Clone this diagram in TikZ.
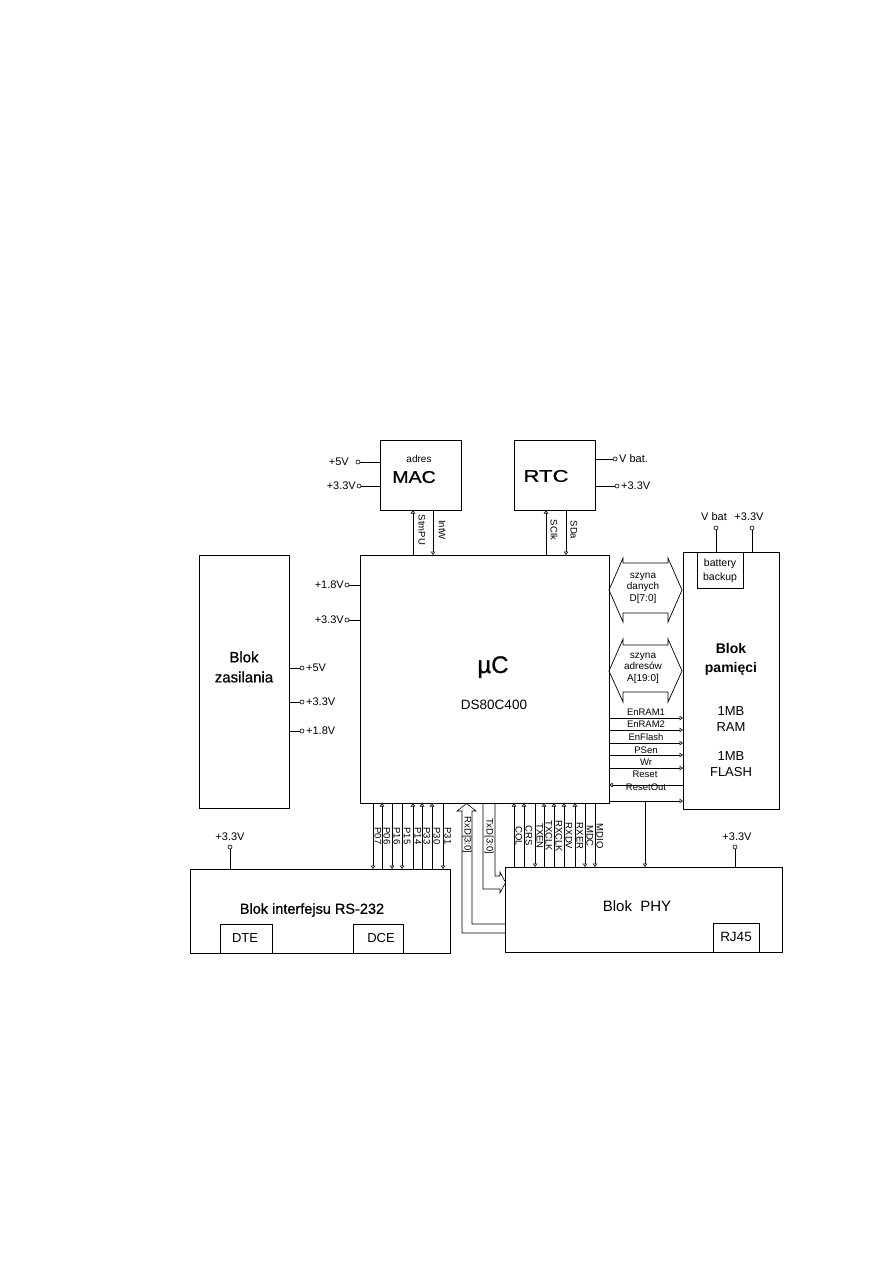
\documentclass[tikz,border=0pt]{standalone}
\usepackage{fontspec}
\usepackage{graphicx}
\setmainfont{Liberation Sans}
\newfontfamily\heavyfont[FakeBold=0.8]{Liberation Sans}
\usetikzlibrary{arrows.meta}
\newcommand\myfs[2]{\fontsize{#1}{#2}\selectfont}
\begin{document}
\begin{tikzpicture}[x=1pt,y=-1pt,
  box/.style={draw,line width=0.9pt,anchor=north west,inner sep=0pt,outer sep=0pt},
  sig/.style={line width=0.6pt},
  tip/.style={-{Triangle[open,length=3.5pt,width=4.5pt]}},
  term/.style={circle,draw,line width=0.6pt,fill=white,inner sep=0pt,minimum size=4pt,outer sep=0pt},
  vlab/.style={font=\myfs{11}{13},inner sep=0pt},
  pin/.style={font=\myfs{9.5}{11},inner sep=0pt,rotate=-90},
  slab/.style={font=\myfs{9.5}{11},inner sep=0pt},
  txt/.style={inner sep=0pt,align=center},
]
\fill[white] (0,0) rectangle (893,1263);
\useasboundingbox (0,0) rectangle (893,1263);

% ---------- blocks ----------
\node[box,minimum width=81pt,minimum height=70pt] (mac) at (380,440) {};
\node[box,minimum width=81pt,minimum height=70pt] (rtc) at (514,440) {};
\node[box,minimum width=249pt,minimum height=248pt] (uc) at (360,555) {};
\node[box,minimum width=90pt,minimum height=253pt] (zas) at (199,555) {};
\node[box,minimum width=96pt,minimum height=257pt] (mem) at (683,552) {};
\node[box,minimum width=46pt,minimum height=36pt] (bat) at (697,552) {};
\node[box,minimum width=260pt,minimum height=84pt] (rs) at (190,869) {};
\node[box,minimum width=52pt,minimum height=29pt] (dte) at (220,924) {};
\node[box,minimum width=50pt,minimum height=29pt] (dce) at (353,924) {};
\node[box,minimum width=277pt,minimum height=85pt] (phy) at (505,867) {};
\node[box,minimum width=46pt,minimum height=29pt] (rj) at (713,923) {};

% ---------- block texts ----------
\node[txt,font=\myfs{10}{12}] (tadres) at (419,459) {adres};
\node[txt,font=\heavyfont\myfs{17}{20}] (tmac) at (414,477) {\scalebox{1.15}[1]{MAC}};
\node[txt,font=\heavyfont\myfs{17}{20}] (trtc) at (546,476) {\scalebox{1.3}[1]{RTC}};
\node[txt,font=\heavyfont\myfs{15}{20}] (tzas) at (244,667) {Blok\\zasilania};
\node[txt,font=\bfseries\myfs{14}{19}] (tmem) at (731,659) {Blok\\pamięci};
\node[txt,font=\myfs{13}{16}] (tram) at (731,719) {1MB\\RAM};
\node[txt,font=\myfs{13}{16}] (tflash) at (731,764) {1MB\\FLASH};
\node[txt,font=\myfs{10.5}{14}] (tbat) at (720,571) {battery\\backup};
\node[txt,font=\heavyfont\myfs{24}{28},anchor=base] (tuc) at (493,673) {µC};
\node[txt,font=\myfs{13.5}{16},anchor=base] (tds) at (494,709) {DS80C400};
\node[txt,font=\heavyfont\myfs{14.5}{17}] (trs) at (312,910) {Blok interfejsu RS-232};
\node[txt,font=\myfs{15}{18}] (tphy) at (637,906) {Blok\ \ PHY};
\node[txt,font=\myfs{13}{15}] (tdte) at (245,938) {DTE};
\node[txt,font=\myfs{13}{15}] (tdce) at (381,938) {DCE};
\node[txt,font=\myfs{13.5}{15}] (trj) at (736,937) {RJ45};

% ---------- supply terminals ----------
\node[term] (m5) at (358,462) {};
\node[vlab,anchor=east] (lm5) at (349,462) {+5V};
\draw[sig] (m5.east) -- (m5 -| mac.west);
\node[term] (m33) at (359,486) {};
\node[vlab,anchor=east] (lm33) at (356,486) {+3.3V};
\draw[sig] (m33.east) -- (m33 -| mac.west);

\node[term] (rvb) at (615,459) {};
\node[vlab,anchor=west] (lrvb) at (619,459) {V bat.};
\draw[sig] (rvb.west) -- (rvb -| rtc.east);
\node[term] (r33) at (617,486) {};
\node[vlab,anchor=west] (lr33) at (621,486) {+3.3V};
\draw[sig] (r33.west) -- (r33 -| rtc.east);

\foreach \n/\y/\t in {z5/668/+5V, z33/702/+3.3V, z18/731/+1.8V} {
  \node[term] (\n) at (302,\y) {};
  \node[vlab,anchor=west] (l\n) at (306,\y) {\t};
  \draw[sig] (\n.west) -- (\n -| zas.east);
}
\foreach \n/\y/\t in {u18/585/+1.8V, u33/620/+3.3V} {
  \node[term] (\n) at (347,\y) {};
  \node[vlab,anchor=east] (l\n) at (344,\y) {\t};
  \draw[sig] (\n.east) -- (\n -| uc.west);
}

\node[term] (mvb) at (716,528) {};
\node[vlab,anchor=south] (lmvb) at (714,521) {V bat};
\draw[sig] (mvb.south) -- (mvb |- bat.north);
\node[term] (m33b) at (752,528) {};
\node[vlab,anchor=south] (lm33b) at (749,521) {+3.3V};
\draw[sig] (m33b.south) -- (m33b |- mem.north);

\node[term] (rs33) at (230,847) {};
\node[vlab,anchor=south] (lrs33) at (230,841) {+3.3V};
\draw[sig] (rs33.south) -- (rs33 |- rs.north);
\node[term] (phy33) at (735,847) {};
\node[vlab,anchor=south] (lphy33) at (737,841) {+3.3V};
\draw[sig] (phy33.south) -- (phy33 |- phy.north);

% ---------- uC <-> MAC / RTC ----------
\foreach \n/\x in {stm/413,intw/433,sclk/546,sda/566} \coordinate (\n) at (\x,0);
\draw[sig,tip] (uc.north -| stm) -- (mac.south -| stm);
\draw[sig,tip] (mac.south -| intw) -- (uc.north -| intw);
\draw[sig,tip] (uc.north -| sclk) -- (rtc.south -| sclk);
\draw[sig,tip] (rtc.south -| sda) -- (uc.north -| sda);
\node[pin] (lstm) at (422,530) {StmPU};
\node[pin] (lintw) at (442,530) {IntW};
\node[pin] (lsclk) at (554,530) {SClk};
\node[pin] (lsda) at (574,530) {SDa};

% ---------- uC <-> RS-232 ----------
\foreach \x/\t in {373/P07,392/P16,402/P15,443/P31} {
  \coordinate (c\t) at (\x,0);
  \draw[sig,tip] (uc.south -| c\t) -- (rs.north -| c\t);
  \node[pin] (l\t) at (\x+5,836) {\t};
}
\foreach \x/\t in {382/P06,413/P14,422/P33,432/P30} {
  \coordinate (c\t) at (\x,0);
  \draw[sig,tip] (rs.north -| c\t) -- (uc.south -| c\t);
  \node[pin] (l\t) at (\x+5,836) {\t};
}

% ---------- uC <-> PHY ----------
\foreach \x/\t in {535/TXEN,585/MDC,595/MDIO} {
  \coordinate (c\t) at (\x,0);
  \draw[sig,tip] (uc.south -| c\t) -- (phy.north -| c\t);
  \node[pin] (l\t) at (\x+5,836) {\t};
}
\foreach \x/\t in {514/COL,524/CRS,544/TXCLK,554/RXCLK,564/RXDV,575/RXER} {
  \coordinate (c\t) at (\x,0);
  \draw[sig,tip] (phy.north -| c\t) -- (uc.south -| c\t);
  \node[pin] (l\t) at (\x+5,836) {\t};
}

% RxD / TxD buses
\draw[sig] (505,924) -- (472,924) -- (472,811) -- (476,811) -- (466.5,803.5)
  -- (457,811) -- (462,811) -- (462,933) -- (505,933);
\node[pin] (lrxd) at (467,835) {RxD[3:0]};
\draw[sig] (495,803) -- (495,876) -- (500,876) -- (500,872) -- (505.5,882.5)
  -- (500,893) -- (500,889) -- (483,889) -- (483,803);
\node[pin] (ltxd) at (489,836) {TxD[3:0]};

% ---------- uC <-> memory ----------
\draw[line width=0.7pt] (609,590) -- (623,558) -- (623,563) -- (668,563) -- (668,558)
  -- (682,590) -- (668,622) -- (668,613) -- (623,613) -- (623,622) -- cycle;
\node[txt,font=\myfs{10}{11.5}] (tdata) at (643,588) {szyna\\danych\\D[7:0]};
\draw[line width=0.7pt] (609,671) -- (623,639) -- (623,645) -- (668,645) -- (668,639)
  -- (682,671) -- (668,702) -- (668,692) -- (623,692) -- (623,702) -- cycle;
\node[txt,font=\myfs{10}{11.5}] (taddr) at (643,668) {szyna\\adresów\\A[19:0]};

\foreach \y/\t/\ly in {718/EnRAM1/712, 730/EnRAM2/724, 743/EnFlash/737, 755/PSen/750, 768/Wr/762} {
  \coordinate (c\t) at (0,\y);
  \draw[sig,tip] (uc.east |- c\t) -- (mem.west |- c\t);
  \node[slab] (l\t) at (646,\ly) {\t};
}
\coordinate (cReset) at (0,785);
\draw[sig,tip] (mem.west |- cReset) -- (uc.east |- cReset);
\node[slab] (lReset) at (645,774) {Reset};
\coordinate (cRO) at (0,801);
\draw[sig,tip] (uc.east |- cRO) -- (mem.west |- cRO);
\node[slab] (lRO) at (646,787) {ResetOut};
\coordinate (xro) at (645,0);
\draw[sig,tip] (xro |- cRO) -- (phy.north -| xro);

\end{tikzpicture}
\end{document}
